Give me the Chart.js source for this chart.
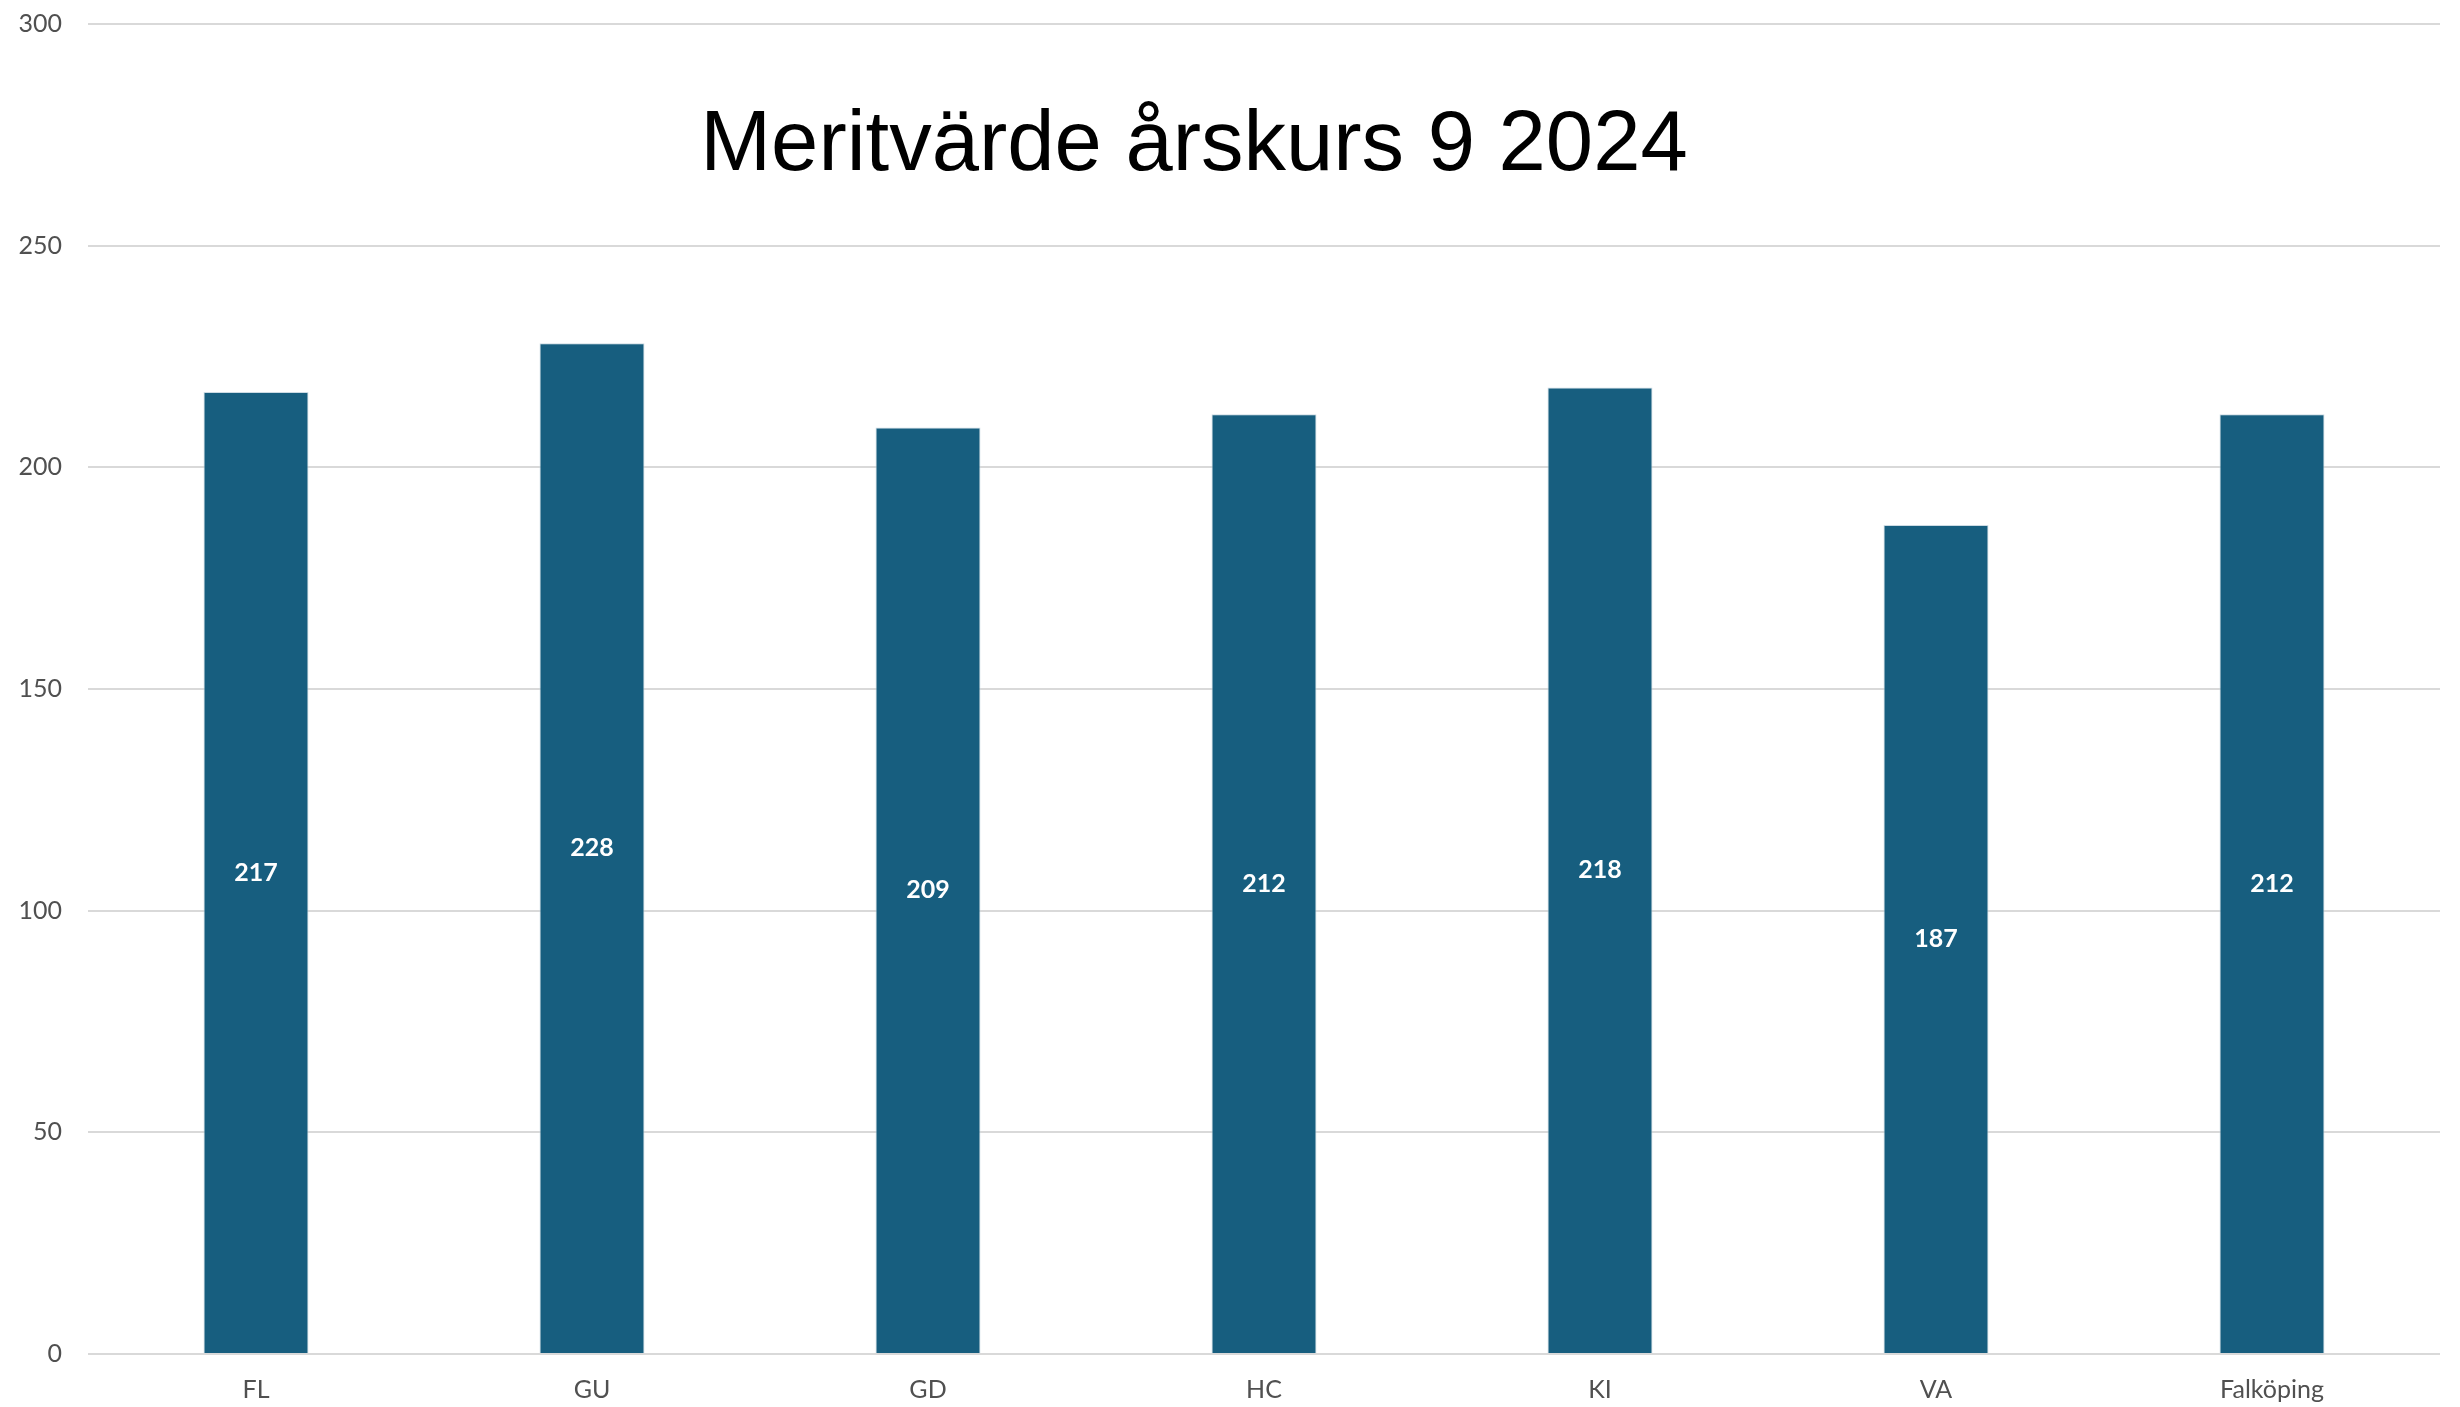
<!DOCTYPE html>
<html>
<head>
<meta charset="utf-8">
<script src="https://cdn.jsdelivr.net/npm/chart.js@4"></script>
<style>
  html, body { margin: 0; padding: 0; background: #fff; }
  #wrap { width: 2460px; height: 1407px; position: relative; }
</style>
</head>
<body>
<div id="wrap"><canvas id="chart"></canvas></div>
<script>
const categories = ['FL', 'GU', 'GD', 'HC', 'KI', 'VA', 'Falköping'];
const meritValues = [217, 228, 209, 212, 218, 187, 212];
const chartTitle = 'Meritvärde årskurs 9 2024';

const barColor = '#175e7f';
const tickColor = '#505050';

// title sits inside the plot area, so draw it ourselves
const titleInside = {
  id: 'titleInside',
  afterDraw(chart) {
    const ctx = chart.ctx;
    ctx.save();
    ctx.font = '85px "Liberation Sans", Arial, sans-serif';
    ctx.fillStyle = '#000';
    ctx.textAlign = 'center';
    ctx.textBaseline = 'alphabetic';
    ctx.fillText(chartTitle, 1194, 170);
    ctx.restore();
  }
};

// white value labels in the middle of each bar
const barLabels = {
  id: 'barLabels',
  afterDatasetsDraw(chart) {
    const ctx = chart.ctx;
    const meta = chart.getDatasetMeta(0);
    ctx.save();
    ctx.font = 'bold 25px Lato, sans-serif';
    ctx.fillStyle = '#fff';
    ctx.textAlign = 'center';
    ctx.textBaseline = 'middle';
    meta.data.forEach((bar, i) => {
      const y = (bar.y + bar.base) / 2;
      ctx.fillText(String(meritValues[i]), bar.x, y);
    });
    ctx.restore();
  }
};

new Chart(document.getElementById('chart'), {
  type: 'bar',
  data: {
    labels: categories,
    datasets: [{
      data: meritValues,
      backgroundColor: barColor,
      borderColor: 'rgba(200,215,225,0.9)',
      borderWidth: 1,
      barPercentage: 0.625,
      categoryPercentage: 0.5
    }]
  },
  options: {
    responsive: true,
    maintainAspectRatio: false,
    animation: false,
    layout: { padding: { top: 24, right: 20, bottom: 0, left: 0 } },
    plugins: {
      legend: { display: false },
      tooltip: { enabled: false }
    },
    scales: {
      x: {
        grid: { display: false, drawTicks: false },
        border: { display: false },
        ticks: {
          color: tickColor,
          font: { family: 'Lato, sans-serif', size: 25 },
          padding: 21
        },
        afterFit(scale) { scale.height = 53; }
      },
      y: {
        min: 0,
        max: 300,
        ticks: {
          stepSize: 50,
          color: tickColor,
          font: { family: 'Lato, sans-serif', size: 25 },
          padding: 26
        },
        grid: { color: '#d9d9d9', lineWidth: 2, drawTicks: false },
        border: { display: false },
        afterFit(scale) {
          scale.width = 88;
          scale.paddingTop = 0;
          scale.paddingBottom = 0;
        }
      }
    }
  },
  plugins: [titleInside, barLabels]
});
</script>
</body>
</html>
